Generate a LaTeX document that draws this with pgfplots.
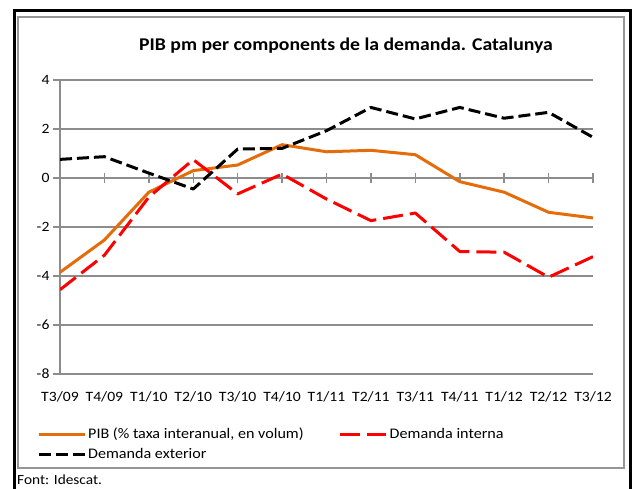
\documentclass[border=0pt]{standalone}
\usepackage{pgfplots}
\pgfplotsset{compat=1.18}
\usepackage{fontspec}
\setmainfont{Carlito}[FakeStretch=1.1]
\definecolor{pibor}{RGB}{228,108,10}
\definecolor{gridg}{RGB}{140,140,140}
\definecolor{frameg}{RGB}{150,150,150}
\begin{document}
\begin{tikzpicture}[x=1bp,y=1bp]
\path[use as bounding box] (0,0) rectangle (635,489);
\begin{scope}
\clip (0,0) rectangle (635,489);
\draw[line width=3bp] (14.3,-10) -- (14.3,478.3) -- (630.5,478.3) -- (630.5,-10);
\end{scope}
\draw[frameg, line width=2bp] (18,472) rectangle (624,21);
\node[font=\fontsize{18}{21}\selectfont\bfseries] at (346,443) {PIB pm per components de la demanda. Catalunya};
\node[anchor=west, font=\fontsize{14}{16}\selectfont, inner sep=0pt] at (17,9) {Font: Idescat.};
% background axis: grid, y axis, x labels
\begin{axis}[
  scale only axis, width=533bp, height=294bp,
  at={(60bp,115bp)}, anchor=south west,
  xmin=0, xmax=12, ymin=-8, ymax=4,
  xtick={0,...,12},
  xticklabels={T3/09,T4/09,T1/10,T2/10,T3/10,T4/10,T1/11,T2/11,T3/11,T4/11,T1/12,T2/12,T3/12},
  ytick={-8,-6,-4,-2,0,2,4},
  yticklabels={-8,-6,-4,-2,0,2,4},
  axis x line*=bottom, axis y line*=left,
  x axis line style={draw=none},
  y axis line style={gridg, line width=1.5bp},
  major x tick style={draw=none},
  major y tick style={gridg, line width=1.5bp},
  tick align=outside, major tick length=7bp,
  ymajorgrids, major grid style={gridg, line width=1.5bp},
  ticklabel style={font=\fontsize{14.3}{16}\selectfont},
  xticklabel style={yshift=-7bp},
]
\end{axis}
% foreground axis: zero line with centred ticks, data, legend
\begin{axis}[
  scale only axis, width=533bp, height=294bp,
  at={(60bp,115bp)}, anchor=south west,
  xmin=0, xmax=12, ymin=-8, ymax=4,
  axis x line=middle, axis y line=none,
  axis line style={-, gridg, line width=1.5bp},
  xtick={0,...,12}, xticklabels={}, ytick=\empty,
  tick align=center, major tick length=10bp,
  major tick style={gridg, line width=1.5bp},
  legend columns=2,
  legend style={draw=none, fill=none, at={(-23bp,-52bp)}, anchor=north west,
    font=\fontsize{14.7}{16}\selectfont, inner sep=0pt, row sep=4bp,
    /tikz/every even column/.append style={column sep=33bp}},
  legend cell align=left,
  legend image code/.code={\draw[#1] (0bp,0bp) -- (46bp,0bp);},
]
\addplot[pibor, line width=3bp, line join=round] coordinates {
(0,-3.85) (1,-2.53) (2,-0.58) (3,0.30) (4,0.53) (5,1.36) (6,1.07) (7,1.13) (8,0.95) (9,-0.15) (10,-0.58) (11,-1.40) (12,-1.63)};
\addlegendentry{PIB (\% taxa interanual, en volum)}
\addplot[red, line width=3bp, dash pattern=on 20bp off 7bp, line join=round] coordinates {
(0,-4.56) (1,-3.15) (2,-0.78) (3,0.75) (4,-0.65) (5,0.16) (6,-0.86) (7,-1.74) (8,-1.43) (9,-3.0) (10,-3.03) (11,-4.05) (12,-3.21)};
\addlegendentry{Demanda interna}
\addplot[black, line width=3bp, dash pattern=on 12bp off 5bp, line join=round] coordinates {
(0,0.76) (1,0.87) (2,0.2) (3,-0.45) (4,1.18) (5,1.21) (6,1.93) (7,2.88) (8,2.41) (9,2.88) (10,2.44) (11,2.68) (12,1.66)};
\addlegendentry{Demanda exterior}
\end{axis}
\end{tikzpicture}
\end{document}
